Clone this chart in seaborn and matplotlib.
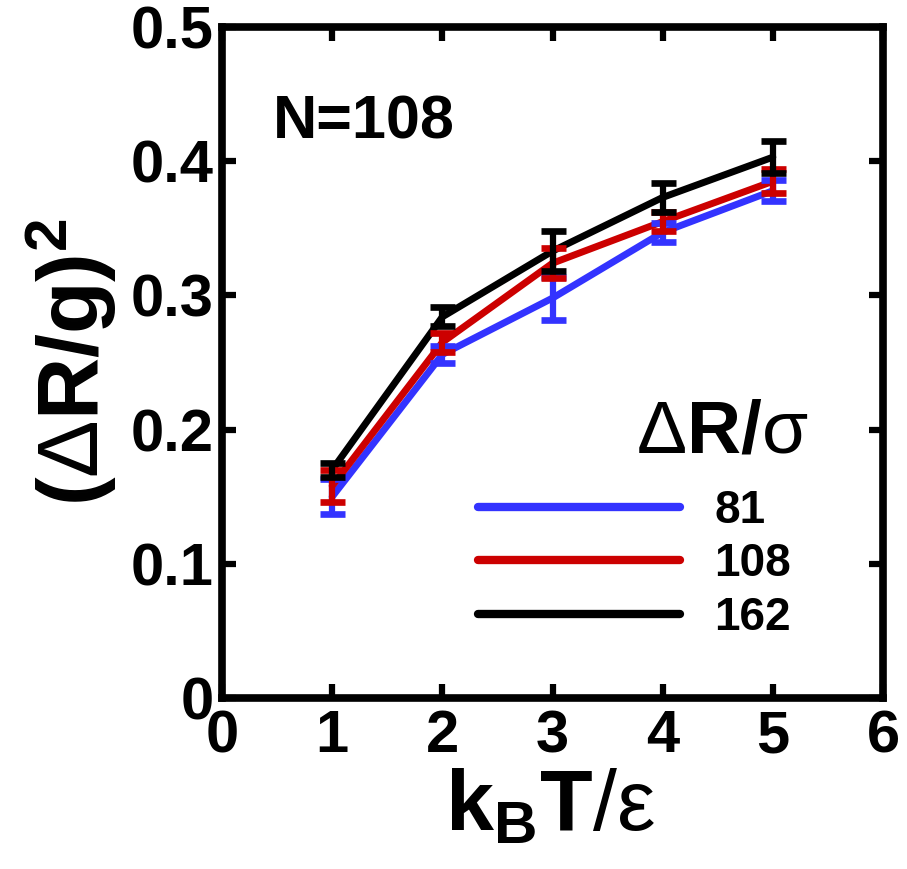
import matplotlib
matplotlib.use("Agg")
import matplotlib.pyplot as plt
import seaborn as sns
import pandas as pd
import numpy as np

# ---- data ----
temps = [1, 2, 3, 4, 5]
series_labels = ["81", "108", "162"]
vals_81 = [0.150, 0.256, 0.298, 0.347, 0.378]
err_81 = [0.013, 0.006, 0.016, 0.007, 0.008]
vals_108 = [0.158, 0.265, 0.324, 0.355, 0.385]
err_108 = [0.012, 0.007, 0.011, 0.007, 0.009]
vals_162 = [0.170, 0.284, 0.333, 0.373, 0.403]
err_162 = [0.005, 0.007, 0.015, 0.011, 0.012]
colors = ["#3333FF", "#CC0000", "#000000"]
x_ticks = [0, 1, 2, 3, 4, 5, 6]
y_ticks = [0, 0.1, 0.2, 0.3, 0.4, 0.5]
y_tick_labels = ["0", "0.1", "0.2", "0.3", "0.4", "0.5"]

sns.set_theme(style="ticks")
plt.rcParams["font.family"] = ["Liberation Sans", "DejaVu Sans"]
plt.rcParams["text.color"] = "black"
plt.rcParams["axes.labelcolor"] = "black"
plt.rcParams["xtick.color"] = "black"
plt.rcParams["ytick.color"] = "black"
plt.rcParams["mathtext.fontset"] = "custom"
plt.rcParams["mathtext.rm"] = "Liberation Sans:weight=normal:style=normal"
plt.rcParams["mathtext.bf"] = "Liberation Sans:weight=bold"
plt.rcParams["mathtext.it"] = "Liberation Sans:weight=normal:style=normal"
plt.rcParams["mathtext.sf"] = "Liberation Sans:weight=normal"

rows = []
for lab, vals, errs in zip(series_labels, [vals_81, vals_108, vals_162], [err_81, err_108, err_162]):
    for t, v, e in zip(temps, vals, errs):
        rows.append({"T": t, "val": v, "err": e, "dR": lab})
df = pd.DataFrame(rows)

fig = plt.figure(figsize=(9.07, 8.69), dpi=100)
ax = fig.add_axes([222 / 907, 171 / 869, 661 / 907, 671 / 869])

sns.lineplot(data=df, x="T", y="val", hue="dR", hue_order=series_labels,
             palette=colors, linewidth=5, ax=ax, legend=True, sort=False)

for i, lab in enumerate(series_labels):
    sub = df[df["dR"] == lab]
    ax.errorbar(sub["T"], sub["val"], yerr=sub["err"], fmt="none",
                ecolor=colors[i], elinewidth=4.5, capsize=9, capthick=4.8,
                zorder=2 + i)

ax.set_xlim(0, 6)
ax.set_ylim(0, 0.5)
ax.set_xticks(x_ticks)
ax.set_xticklabels([str(v) for v in x_ticks])
ax.set_yticks(y_ticks)
ax.set_yticklabels(y_tick_labels)

for sp in ax.spines.values():
    sp.set_linewidth(5.5)
    sp.set_color("black")
ax.tick_params(axis="both", which="major", direction="in", length=10, width=4.5,
               top=True, right=True, labelsize=43, colors="black")
ax.tick_params(axis="x", pad=8)
ax.tick_params(axis="y", pad=6)
for lbl in ax.get_xticklabels() + ax.get_yticklabels():
    lbl.set_fontweight("bold")

ax.set_xlabel(r"$\mathbf{k_B T}/\varepsilon$", fontsize=62)
ax.set_ylabel(r"$\mathbf{(}\Delta\mathbf{R/g)^2}$", fontsize=62)
ax.xaxis.set_label_coords(0.496, -0.105)
ax.yaxis.set_label_coords(-0.156, 0.50)

ax.text(0.46, 0.417, "N=108", fontsize=44, fontweight="bold", ha="left", va="baseline")
ax.text(5.32, 0.1826, r"$\Delta\mathbf{R/}\sigma$", fontsize=54, ha="right", va="baseline")

handles, labels = ax.get_legend_handles_labels()
leg = ax.legend(handles, labels, loc="upper left", bbox_to_anchor=(0.388, 0.312),
                frameon=False, fontsize=33, handlelength=4.4, handletextpad=0.75,
                labelspacing=0.21, borderpad=0, borderaxespad=0)
for t in leg.get_texts():
    t.set_fontweight("bold")
for l in leg.get_lines():
    l.set_linewidth(6)

fig.savefig("out.png", dpi=100)
